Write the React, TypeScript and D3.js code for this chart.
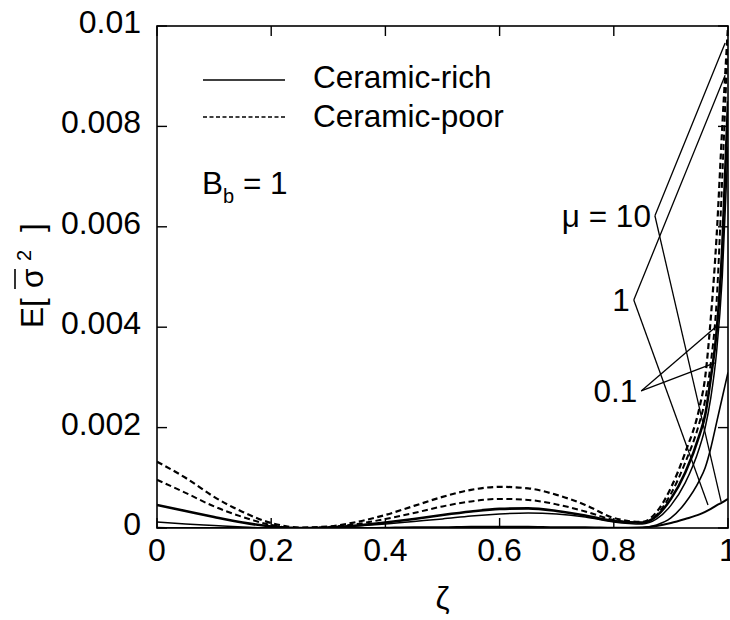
import React from 'react';
import * as d3 from 'd3';

// Sample positions through the thickness coordinate ζ
const zeta = [0, 0.05, 0.1, 0.15, 0.2, 0.25, 0.3, 0.35, 0.4, 0.45, 0.5, 0.55, 0.6, 0.65, 0.7, 0.75, 0.8, 0.85, 0.875, 0.9, 0.925, 0.95, 0.96, 0.97, 0.98, 0.99, 1.0];

// Ceramic-poor (dashed)
const poorMu10 = [0.00132, 0.001, 0.00062, 0.00032, 0.0001, 0.00001, 0.00003, 0.00012, 0.00026, 0.00044, 0.00062, 0.00076, 0.00082, 0.00079, 0.00066, 0.00046, 0.0002, 0.00012, 0.00032, 0.0008, 0.0015, 0.0024, 0.003, 0.0042, 0.0058, 0.008, 0.01];
const poorMu1 = [0.00096, 0.0007, 0.00043, 0.00022, 0.00006, 0.0, 0.00002, 0.00008, 0.00018, 0.0003, 0.00043, 0.00053, 0.00058, 0.00056, 0.00047, 0.00033, 0.00016, 0.0001, 0.00026, 0.00068, 0.0013, 0.0021, 0.00255, 0.0033, 0.0045, 0.007, 0.0098];

// Ceramic-rich (solid)
const richA = [0.00046, 0.00034, 0.00022, 0.00011, 0.00003, 0.0, 0.00001, 0.00005, 0.00011, 0.00018, 0.00026, 0.00033, 0.00038, 0.00039, 0.00034, 0.00025, 0.00014, 0.00011, 0.00024, 0.00058, 0.0011, 0.00185, 0.00225, 0.003, 0.0039, 0.0056, 0.0085];
const richB = [0.00012, 0.00008, 0.00005, 0.00002, 0.0, 0.0, 0.00001, 0.00004, 0.00008, 0.00013, 0.00018, 0.00024, 0.00028, 0.0003, 0.00028, 0.00022, 0.00012, 0.00008, 0.00018, 0.00045, 0.0009, 0.0016, 0.002, 0.0026, 0.0035, 0.005, 0.0076];
const richC = [0.00001, 0.0, 0.0, 0.0, 0.0, 0.0, 0.0, 0.0, 0.00001, 0.00002, 0.00002, 0.00003, 0.00003, 0.00003, 0.00002, 0.00002, 0.00001, 0.00001, 0.00006, 0.0002, 0.0005, 0.00095, 0.0012, 0.0016, 0.0021, 0.0026, 0.0031];
const richD = [0.0, 0.0, 0.0, 0.0, 0.0, 0.0, 0.0, 0.0, 0.0, 0.0, 0.0, 0.0, 0.0, 0.0, 0.0, 0.0, 0.0, 0.00001, 0.00004, 0.0001, 0.00018, 0.00027, 0.00032, 0.00038, 0.00045, 0.00051, 0.00058];

const xTicks = [0, 0.2, 0.4, 0.6, 0.8, 1];
const xTickLabels = ['0', '0.2', '0.4', '0.6', '0.8', '1'];
const yTicks = [0, 0.002, 0.004, 0.006, 0.008, 0.01];
const yTickLabels = ['0', '0.002', '0.004', '0.006', '0.008', '0.01'];

const legendLabels = ['Ceramic-rich', 'Ceramic-poor'];

// μ annotations: label, vertex [ζ, E], leader targets [ζ, E]
const muLabels = ['μ = 10', '1', '0.1'];
const muVertices: [number, number][] = [[0.872, 0.00622], [0.835, 0.00454], [0.848, 0.00273]];
const muTargets: [number, number][][] = [
  [[0.995, 0.00966], [0.988, 0.00052]],
  [[0.995, 0.00902], [0.965, 0.00046]],
  [[0.982, 0.00404], [0.977, 0.00329]],
];

const FONT = '"Liberation Sans", Arial, Helvetica, sans-serif';
const W = 730;
const H = 620;
const TICK_FONT = 32;
const TEXT_FONT = 31.5;

export default function App() {
  const x = d3.scaleLinear().domain([0, 1]).range([157, 728]);
  const y = d3.scaleLinear().domain([0, 0.01]).range([528, 26]);

  const series = [
    { values: poorMu10, dash: '6,3.5', width: 2.2 },
    { values: poorMu1, dash: '6,3.5', width: 2.0 },
    { values: richA, dash: null, width: 2.6 },
    { values: richB, dash: null, width: 1.5 },
    { values: richC, dash: null, width: 1.6 },
    { values: richD, dash: null, width: 2.0 },
  ];

  const line = d3
    .line<number>()
    .x((_, i) => x(zeta[i]))
    .y((d) => y(d))
    .curve(d3.curveMonotoneX);

  const [x0, x1] = x.range();
  const [y0, y1] = y.range();
  const tickLen = 10;

  return (
    <svg
      width={W}
      height={H}
      viewBox={`0 0 ${W} ${H}`}
      style={{ position: 'absolute', left: 0, top: 0, background: '#fff', display: 'block' }}
      fontFamily={FONT}
    >
      <defs>
        <clipPath id="plotClip">
          <rect x={x0} y={y1} width={x1 - x0} height={y0 - y1} />
        </clipPath>
      </defs>

      {/* curves */}
      <g clipPath="url(#plotClip)">
        {series.map((s, i) => (
          <path
            key={i}
            d={line(s.values) || ''}
            fill="none"
            stroke="#000"
            strokeWidth={s.width}
            strokeDasharray={s.dash || undefined}
          />
        ))}
      </g>

      {/* frame */}
      <rect x={x0} y={y1} width={x1 - x0} height={y0 - y1} fill="none" stroke="#000" strokeWidth={1.6} />

      {/* x ticks (inward, top and bottom) */}
      {xTicks.map((t, i) => (
        <g key={`xt${i}`}>
          <line x1={x(t)} x2={x(t)} y1={y0} y2={y0 - tickLen} stroke="#000" strokeWidth={1.4} />
          <line x1={x(t)} x2={x(t)} y1={y1} y2={y1 + tickLen} stroke="#000" strokeWidth={1.4} />
          <text x={x(t)} y={y0 + 33} fontSize={TICK_FONT} textAnchor="middle" fill="#000">
            {xTickLabels[i]}
          </text>
        </g>
      ))}

      {/* y ticks (inward, left and right) */}
      {yTicks.map((t, i) => (
        <g key={`yt${i}`}>
          <line x1={x0} x2={x0 + tickLen} y1={y(t)} y2={y(t)} stroke="#000" strokeWidth={1.4} />
          <line x1={x1} x2={x1 - tickLen} y1={y(t)} y2={y(t)} stroke="#000" strokeWidth={1.4} />
          <text x={141} y={y(t) + 7} fontSize={TICK_FONT} textAnchor="end" fill="#000">
            {yTickLabels[i]}
          </text>
        </g>
      ))}

      {/* axis titles */}
      <text x={(x0 + x1) / 2} y={609} fontSize={TICK_FONT} textAnchor="middle" fill="#000">
        ζ
      </text>
      <g transform="translate(43,328) rotate(-90)">
        <text x={0} y={0} fontSize={TEXT_FONT} fill="#000">E[</text>
        <text x={40} y={0} fontSize={TEXT_FONT} fill="#000">σ</text>
        <line x1={39} x2={59} y1={-28} y2={-28} stroke="#000" strokeWidth={1.6} />
        <text x={67} y={-12} fontSize={20} fill="#000">2</text>
        <text x={96} y={0} fontSize={TEXT_FONT} fill="#000">]</text>
      </g>

      {/* legend */}
      <line x1={203} x2={285} y1={80} y2={80} stroke="#000" strokeWidth={1.5} />
      <text x={313} y={88} fontSize={TEXT_FONT} fill="#000">{legendLabels[0]}</text>
      <line x1={203} x2={285} y1={117} y2={117} stroke="#000" strokeWidth={1.3} strokeDasharray="4,2.5" />
      <text x={313} y={127} fontSize={TEXT_FONT} fill="#000">{legendLabels[1]}</text>

      {/* parameter note */}
      <text x={202} y={194} fontSize={TEXT_FONT} fill="#000">
        B
        <tspan fontSize={20} dy={9}>b</tspan>
        <tspan dy={-9}>{'  = 1'}</tspan>
      </text>

      {/* μ labels with leader lines */}
      {muLabels.map((lab, i) => {
        const [vx, vy] = muVertices[i];
        const px = x(vx);
        const py = y(vy);
        return (
          <g key={`mu${i}`}>
            {muTargets[i].map((tg, j) => (
              <line key={j} x1={px} y1={py} x2={x(tg[0])} y2={y(tg[1])} stroke="#000" strokeWidth={1.3} />
            ))}
            <text x={px - 4} y={py + 11} fontSize={TEXT_FONT} textAnchor="end" fill="#000">
              {lab}
            </text>
          </g>
        );
      })}
    </svg>
  );
}
